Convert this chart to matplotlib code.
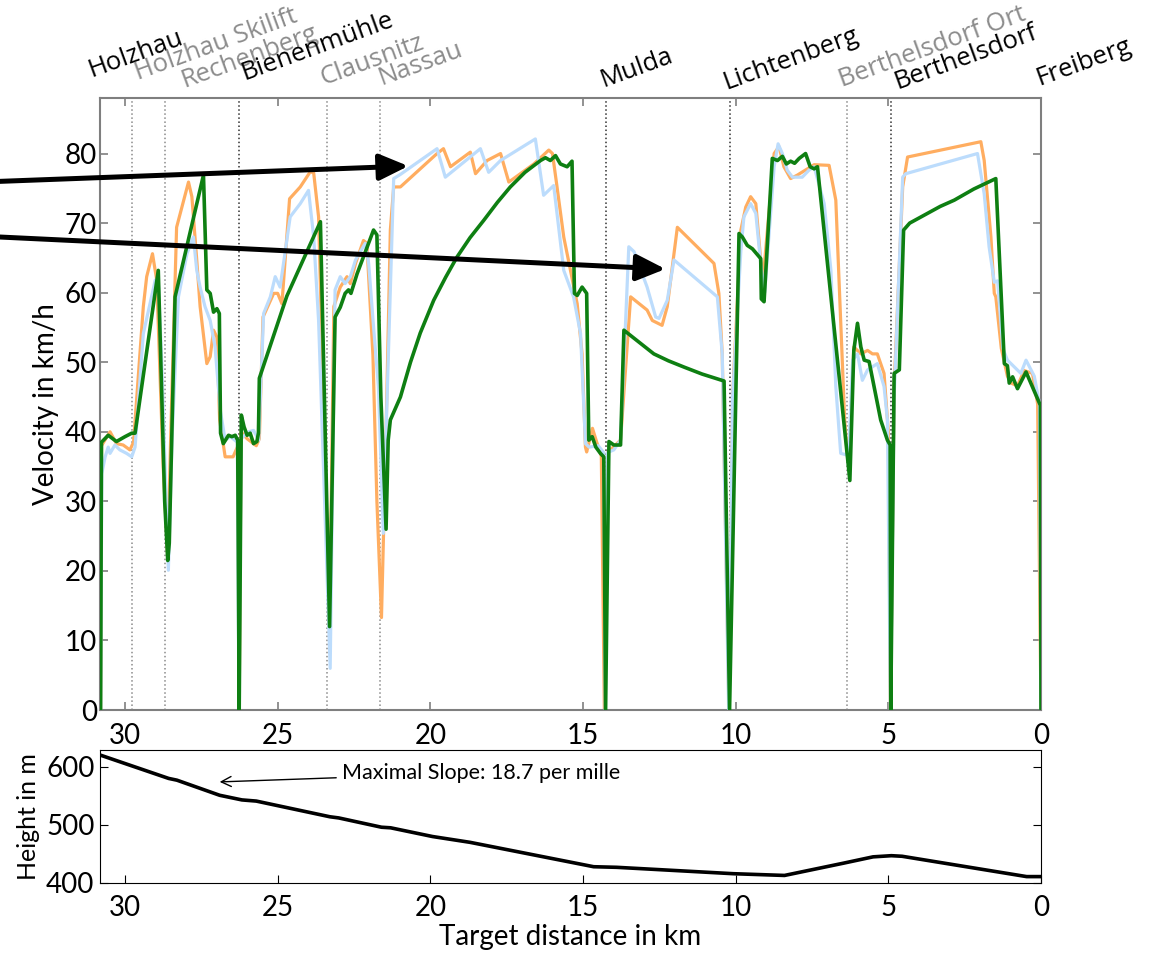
import matplotlib.pyplot as plt
from matplotlib.transforms import blended_transform_factory, offset_copy

plt.rcParams['font.family'] = ['Lato', 'DejaVu Sans']

# Stations along the line (target distance in km)
stations = ['Holzhau', 'Holzhau Skilift', 'Rechenberg', 'Bienenmühle', 'Clausnitz', 'Nassau',
            'Mulda', 'Lichtenberg', 'Berthelsdorf Ort', 'Berthelsdorf', 'Freiberg']
station_km = [30.82, 29.78, 28.69, 26.25, 23.39, 21.64, 14.26, 10.19, 6.36, 4.92, 0.0]
station_stop = [True, False, False, True, False, False, True, True, False, True, True]

# Velocity profiles (km, km/h)
orange_km = [30.80, 30.77, 30.49, 30.28, 30.06, 29.84, 29.72, 29.40, 29.29, 29.10, 28.96, 28.75, 28.60, 28.50,
             28.31, 28.25, 27.92, 27.81, 27.65, 27.54, 27.32, 27.21, 27.10, 26.99, 26.90, 26.72, 26.46, 26.30,
             26.26, 26.20, 26.00, 25.70, 25.60, 25.48, 25.13, 25.00, 24.86, 24.61, 24.26, 23.93, 23.82, 23.66,
             23.30, 23.16, 22.95, 22.73, 22.62, 22.45, 22.19, 22.08, 21.88, 21.75, 21.60, 21.45, 21.31, 21.20,
             20.98, 20.33, 19.78, 19.57, 19.34, 18.69, 18.52, 18.14, 17.70, 17.43, 16.61, 16.12, 16.00, 15.85,
             15.63, 15.41, 15.19, 15.03, 14.92, 14.88, 14.69, 14.55, 14.40, 14.30, 14.20, 13.77, 13.44, 12.90,
             12.73, 12.41, 12.24, 11.91, 10.71, 10.55, 10.44, 10.22, 10.10, 9.83, 9.67, 9.51, 9.34, 9.18, 9.10,
             8.74, 8.58, 8.42, 8.20, 7.98, 7.65, 7.43, 6.94, 6.72, 6.56, 6.43, 6.35, 6.25, 6.13, 5.90, 5.68,
             5.52, 5.36, 5.14, 5.00, 4.93, 4.81, 4.53, 4.37, 1.97, 1.86, 1.64, 1.53, 1.48, 1.30, 1.10, 0.98,
             0.77, 0.55, 0.28, 0.11, 0.0]
orange_v = [0, 38, 40, 38.3, 38.1, 37.4, 38.5, 58, 62.3, 65.6, 61.8, 35, 22, 40,
            69.4, 70.4, 75.9, 73.8, 64.7, 58, 49.8, 50.8, 54.6, 53.6, 41.7, 36.4, 36.4, 38,
            0, 40, 39, 38, 39, 56.5, 59.9, 59.9, 58.4, 73.5, 75.2, 77.4, 77.2, 70.9,
            12, 58, 60.8, 62.3, 61.3, 64.2, 67.5, 67.1, 51, 30, 13.3, 40, 69, 75.2,
            75.2, 77.8, 80, 80.7, 78.1, 80.2, 77.1, 79, 80, 75.9, 78.5, 80.5, 80, 75.2,
            68, 63.2, 58.4, 51.2, 37.8, 37.1, 40.5, 38.5, 36.5, 0, 37, 38.8, 59.4, 57.5,
            56, 55.3, 58, 69.4, 64.2, 59.9, 51.2, 0, 45, 69, 72.3, 73.8, 72.8, 64.7, 62,
            80, 81, 78.1, 76.4, 76.9, 77.8, 78.4, 78.3, 73.3, 56, 41.7, 37, 40, 52.2, 51.2, 51.7,
            51.2, 51.2, 48.4, 40, 0, 46.5, 75.2, 79.5, 81.7, 79, 68, 59.9, 59.4, 52, 48, 47,
            46.6, 48.8, 48.4, 44, 0]

blue_km = [30.80, 30.76, 30.65, 30.55, 30.49, 30.33, 30.17, 29.95, 29.78, 29.67, 29.40, 29.01, 28.90, 28.80,
           28.58, 28.45, 28.25, 27.97, 27.76, 27.65, 27.54, 27.38, 27.21, 27.05, 26.88, 26.72, 26.55, 26.32,
           26.27, 26.20, 25.95, 25.79, 25.62, 25.46, 25.24, 25.08, 24.92, 24.59, 24.26, 23.99, 23.82, 23.66,
           23.28, 23.12, 22.95, 22.79, 22.62, 22.45, 22.13, 22.02, 21.86, 21.70, 21.54, 21.45, 21.20, 20.98,
           20.33, 19.78, 19.51, 18.36, 18.09, 17.70, 16.56, 16.29, 15.96, 15.63, 15.31, 15.08, 14.92, 14.80,
           14.50, 14.32, 14.27, 14.20, 13.99, 13.77, 13.50, 13.33, 12.90, 12.62, 12.51, 12.24, 12.02, 10.60,
           10.44, 10.23, 10.10, 9.83, 9.73, 9.51, 9.34, 9.18, 9.05, 8.74, 8.61, 8.47, 8.31, 8.14, 7.82, 7.60,
           7.43, 7.10, 6.88, 6.72, 6.56, 6.30, 6.17, 6.01, 5.85, 5.68, 5.36, 5.14, 5.03, 4.93, 4.81, 4.53,
           4.43, 2.08, 1.86, 1.70, 1.53, 1.42, 1.25, 1.10, 0.87, 0.66, 0.49, 0.22, 0.05, 0.0]
blue_v = [0, 34, 36.4, 37.8, 36.9, 38.1, 37.4, 36.9, 36.4, 37.8, 54.1, 61.8, 60.8, 50.3,
          20.1, 40, 59.4, 65.6, 68, 63.2, 60.8, 58, 56, 52.2, 43.1, 38.8, 39.3, 38.5,
          0, 39, 40, 40.2, 38.8, 57, 59.4, 62.3, 60.8, 70.9, 72.8, 74.7, 68, 56,
          6, 60.4, 62.3, 61.3, 62.3, 64.7, 67.1, 64.2, 55.1, 46.5, 25.4, 40, 76.4, 77,
          79, 80.7, 76.6, 80.7, 77.3, 79, 82.1, 74, 75.4, 63.2, 59.4, 54.1, 38.3, 37.8,
          38, 37, 0, 37, 37.4, 38.8, 66.6, 65.9, 60.8, 56.5, 56.3, 58.9, 64.7, 59.4,
          51.2, 0, 45, 66, 70.9, 72.8, 71.4, 64.2, 60, 78.1, 81.4, 80, 77.6, 76.6, 76.6, 77.6,
          78.1, 72.8, 63.2, 46.5, 36.9, 36.6, 50.3, 51.2, 47.4, 48.9, 49.8, 46.5, 41.7, 0, 45, 76.6,
          77.1, 80, 74.2, 66.6, 61.5, 61.7, 52, 50.3, 49.3, 48.4, 50.3, 48, 44, 0]

green_km = [30.80, 30.77, 30.55, 30.28, 30.00, 29.78, 29.67, 28.91, 28.70, 28.60, 28.55, 28.36, 27.43, 27.32,
            27.21, 27.10, 26.99, 26.91, 26.87, 26.78, 26.61, 26.50, 26.39, 26.31, 26.26, 26.19, 26.10, 26.00,
            25.90, 25.79, 25.68, 25.63, 25.60, 24.70, 23.60, 23.30, 23.12, 22.95, 22.79, 22.68, 22.60, 22.40,
            21.86, 21.75, 21.62, 21.45, 21.38, 21.31, 20.98, 20.65, 20.33, 19.89, 19.50, 19.13, 18.70, 18.25,
            17.80, 17.38, 16.90, 16.39, 16.23,
            16.07, 15.90, 15.74, 15.52, 15.36, 15.28, 15.19, 15.03, 14.88, 14.81, 14.70, 14.58, 14.43, 14.32,
            14.26, 14.15, 13.99, 13.77, 13.66, 12.68, 12.20, 11.69, 11.10, 10.38, 10.20, 9.89, 9.78, 9.62,
            9.45, 9.18, 9.16,
            9.07, 8.80, 8.63, 8.47, 8.34, 8.20, 8.07, 7.92, 7.71, 7.56, 7.43, 7.32, 6.28, 6.26, 6.13, 6.01,
            5.90, 5.79, 5.63, 5.25, 5.03, 4.94, 4.92, 4.81, 4.64, 4.50, 4.30, 3.72, 3.30, 2.84, 2.20, 1.48,
            1.20, 1.10, 1.04, 0.93, 0.77, 0.49, 0.02, 0.0]
green_v = [0, 38.5, 39.5, 38.6, 39.3, 39.8, 39.8, 63.2, 30, 21.5, 24, 59.4, 76.9, 60.4,
           59.9, 57.2, 57.7, 57, 39.8, 38.3, 39.5, 39.3, 39.5, 38.8, 0, 42.4, 40.7, 39.5,
           39.8, 38.3, 38.6, 39.8, 47.7, 59.5, 70.2, 12, 56.5, 57.9, 59.9, 60.4, 59.9, 62.7,
           69, 68.3, 45, 26, 38.8, 41.7, 45, 50.0, 54.2, 58.9, 62.2, 65.1, 67.9, 70.4,
           73.0, 75.2, 77.3, 79, 79.4,
           79, 79.7, 78.5, 78.1, 78.9, 59.9, 59.6, 60.8, 59.9, 38.8, 39.3, 37.8, 36.9, 36.4,
           0, 38.6, 38.1, 38.1, 54.6, 51.2, 50.2, 49.3, 48.3, 47.3, 0, 68.5, 68, 66.8,
           66.3, 64.9, 59.1,
           58.7, 79.3, 79, 79.6, 78.5, 78.9, 78.6, 79.3, 80, 78.1, 77.8, 78.1, 34, 33, 51.7, 55.6,
           52.2, 50.3, 50.1, 41.7, 38.8, 38.1, 0, 48.4, 48.9, 69, 70.0, 71.4, 72.4, 73.3, 74.9, 76.4,
           49.8, 49.5, 47, 47.9, 46.2, 48.6, 43.8, 0]

# Height profile
height_km = [30.80, 28.57, 28.30, 26.90, 26.17, 25.70, 23.29, 23.00, 21.60, 21.30, 19.93, 18.70,
             14.65, 13.90, 10.08, 8.40, 6.48, 5.50, 4.90, 4.55, 0.47, 0.0]
height_m = [620, 580, 577, 551, 543, 541, 514, 512, 496, 495, 480, 470,
            428, 427, 416, 413, 434, 445, 447, 446, 411, 411]

fig = plt.figure(figsize=(11.49, 9.55), dpi=100)
ax = fig.add_axes([0.087, 0.2565, 0.819, 0.641])
ax2 = fig.add_axes([0.087, 0.0754, 0.819, 0.1393])

# station markers
for km, stop in zip(station_km[1:-1], station_stop[1:-1]):
    ax.axvline(km, color='#303030' if stop else '#8a8a8a', ls=':', lw=1.1, zorder=1)

ax.plot(orange_km, orange_v, color='#ffad60', lw=2.3, zorder=2)
ax.plot(blue_km, blue_v, color='#bcdcfc', lw=2.3, zorder=3)
ax.plot(green_km, green_v, color='#0e7f12', lw=2.6, zorder=4)

ax.set_xlim(30.82, 0)
ax.set_ylim(0, 88)
ax.set_xticks([30, 25, 20, 15, 10, 5, 0])
ax.set_yticks(range(0, 81, 10))
ax.tick_params(direction='in', top=True, right=True, color='#7f7f7f', length=6,
               labelsize=20, width=1.2)
ax.tick_params(axis='x', pad=9)
ax.tick_params(axis='y', pad=2)
for s in ax.spines.values():
    s.set_color('#7f7f7f')
    s.set_linewidth(1.5)
ax.set_ylabel('Velocity in km/h', fontsize=20, labelpad=4)

# station names above the plot (offsets in points)
label_dx = [-11, 0, 9, -1, -7, -4, -6, -7, -8, 0, -6]
label_dy = [11, 8.6, 3.6, 8.6, 5, 5, 3.6, 2.2, 3.6, 2.2, 5]
trans = blended_transform_factory(ax.transData, ax.transAxes)
for name, km, stop, dx, dy in zip(stations, station_km, station_stop, label_dx, label_dy):
    t = offset_copy(trans, fig=fig, x=dx, y=dy, units='points')
    ax.text(km, 1.0, name, transform=t, rotation=20, ha='left', va='bottom',
            fontsize=18.5, family=['Open Sans', 'DejaVu Sans'],
            color='black' if stop else '#8c8c8c')

# big arrows pointing into the chart
arrow_style = dict(arrowstyle='-|>,head_length=1.1,head_width=0.5', lw=3.6, color='black',
                   mutation_scale=16, shrinkA=0, shrinkB=0)
ax.annotate('', xy=(20.72, 78.2), xytext=(34.1, 76.0), arrowprops=arrow_style,
            annotation_clip=False, zorder=6)
ax.annotate('', xy=(12.3, 63.4), xytext=(34.1, 68.0), arrowprops=arrow_style,
            annotation_clip=False, zorder=6)

# height profile
ax2.plot(height_km, height_m, color='black', lw=2.6)
ax2.set_xlim(30.82, 0)
ax2.set_ylim(400, 629)
ax2.set_xticks([30, 25, 20, 15, 10, 5, 0])
ax2.set_yticks([400, 500, 600])
ax2.tick_params(direction='in', right=True, length=6, labelsize=20)
ax2.tick_params(axis='x', pad=9)
ax2.tick_params(axis='y', pad=4)
ax2.set_ylabel('Height in m', fontsize=18, labelpad=4)
ax2.set_xlabel('Target distance in km', fontsize=20, labelpad=2)
ax2.annotate('Maximal Slope: 18.7 per mille', xy=(26.9, 574), xytext=(22.9, 590),
             fontsize=15.5, ha='left', va='center',
             arrowprops=dict(arrowstyle='->', lw=1.0, color='black', mutation_scale=18,
                             shrinkA=2, shrinkB=0))

fig.savefig('out.png', dpi=100)
